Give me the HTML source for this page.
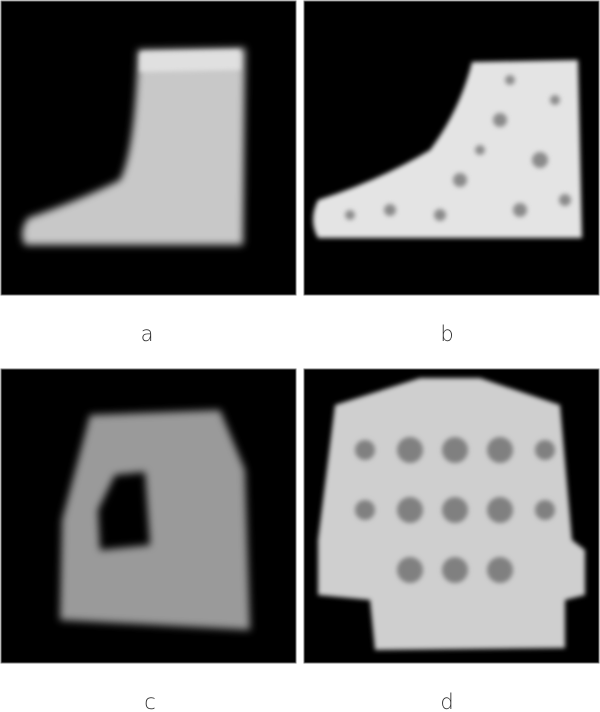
<!DOCTYPE html>
<html><head><meta charset="utf-8"><style>
html,body{margin:0;padding:0;background:#fff;width:600px;height:712px;overflow:hidden}
svg{display:block}
text{font-family:"DejaVu Sans","Liberation Sans",sans-serif;font-size:21px;fill:#333;font-weight:300}
</style></head><body>
<svg width="600" height="712" viewBox="0 0 600 712">
<defs>
<filter id="bl" x="-20%" y="-20%" width="140%" height="140%"><feGaussianBlur stdDeviation="4"/></filter>
<filter id="bl2" x="-20%" y="-20%" width="140%" height="140%"><feGaussianBlur stdDeviation="2.5"/></filter>
</defs>
<g>
<rect x="1" y="1" width="295" height="294" fill="#000" stroke="#777" stroke-width="1"/>
<path d="M138,50 L245,48 L243,245 L25,245 Q18,232 28,218 Q80,200 120,180 Q135,150 138,50 Z" fill="#c8c8c8" filter="url(#bl)"/>
<path d="M140,52 L240,50 L240,70 L140,72 Z" fill="#e0e0e0" filter="url(#bl2)"/>
</g>
<g>
<rect x="304" y="1" width="295" height="294" fill="#000" stroke="#777" stroke-width="1"/>
<path d="M472,62 L578,60 L582,238 L318,238 Q308,220 318,200 Q380,180 430,150 Q460,110 472,62 Z" fill="#e4e4e4" filter="url(#bl2)"/>
<g fill="#8a8a8a" filter="url(#bl2)">
<circle cx="500" cy="120" r="7"/><circle cx="540" cy="160" r="8"/><circle cx="460" cy="180" r="7"/>
<circle cx="520" cy="210" r="7"/><circle cx="390" cy="210" r="6"/><circle cx="555" cy="100" r="5"/>
<circle cx="440" cy="215" r="6"/><circle cx="480" cy="150" r="5"/><circle cx="565" cy="200" r="6"/>
<circle cx="350" cy="215" r="5"/><circle cx="510" cy="80" r="5"/>
</g>
</g>
<g>
<rect x="1" y="369" width="295" height="294" fill="#000" stroke="#777" stroke-width="1"/>
<path d="M90,415 L220,410 L245,470 L250,630 L60,620 L62,520 Z" fill="#9a9a9a" filter="url(#bl)"/>
<path d="M115,475 L145,472 L150,545 L100,550 L98,510 Z" fill="#000" filter="url(#bl)"/>
</g>
<g>
<rect x="304" y="369" width="295" height="294" fill="#000" stroke="#777" stroke-width="1"/>
<path d="M420,378 L480,378 L560,405 L572,540 L585,550 L585,595 L565,600 L565,648 L375,650 L370,600 L318,595 L318,540 L335,405 Z" fill="#cfcfcf" filter="url(#bl2)"/>
<g fill="#808080" filter="url(#bl2)">
<circle cx="410" cy="450" r="13"/><circle cx="455" cy="450" r="13"/><circle cx="500" cy="450" r="13"/>
<circle cx="410" cy="510" r="13"/><circle cx="455" cy="510" r="13"/><circle cx="500" cy="510" r="13"/>
<circle cx="410" cy="570" r="13"/><circle cx="455" cy="570" r="13"/><circle cx="500" cy="570" r="13"/>
<circle cx="365" cy="450" r="10"/><circle cx="545" cy="450" r="10"/><circle cx="365" cy="510" r="10"/><circle cx="545" cy="510" r="10"/>
</g>
</g>
<text x="147" y="341" text-anchor="middle">a</text>
<text x="447" y="341" text-anchor="middle">b</text>
<text x="150" y="709" text-anchor="middle">c</text>
<text x="447" y="709" text-anchor="middle">d</text>
</svg>
</body></html>
